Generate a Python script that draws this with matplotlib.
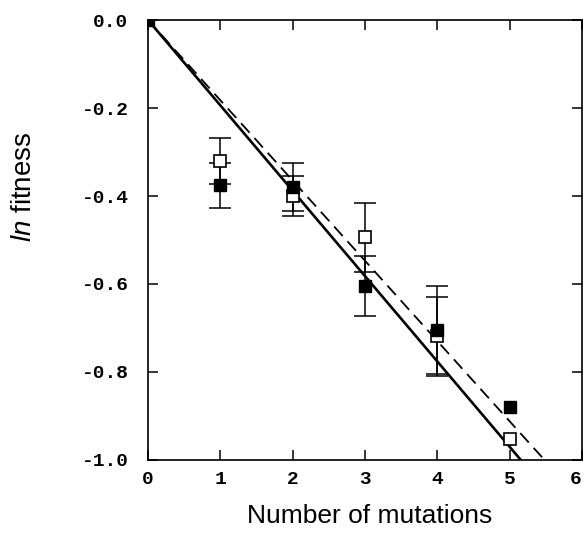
import matplotlib

matplotlib.use("Agg")
import matplotlib.pyplot as plt
import numpy as np

# data
mutations = [0, 1, 2, 3, 4, 5]
filled_y = [0.0, -0.376, -0.38, -0.604, -0.705, -0.879]
open_y = [0.0, -0.32, -0.40, -0.494, -0.719, -0.952]
# error bars only exist for 1..4 mutations
err_x = [1, 2, 3, 4]
filled_err = [0.052, 0.055, 0.068, 0.10]
open_err = [0.052, 0.046, 0.078, 0.09]
solid_slope = -0.194
dashed_slope = -0.1824
x_ticks = [0, 1, 2, 3, 4, 5, 6]
y_ticks = [0.0, -0.2, -0.4, -0.6, -0.8, -1.0]

plt.rcParams["mathtext.fontset"] = "custom"
plt.rcParams["mathtext.it"] = "Liberation Sans:italic"
plt.rcParams["mathtext.rm"] = "Liberation Sans"

fig = plt.figure(figsize=(5.86, 5.35), dpi=100)
ax = fig.add_axes([0.2526, 0.1402, 0.7405, 0.8224])

fit_x = np.array([0, 6])
ax.plot(fit_x, dashed_slope * fit_x, color="black", lw=1.3, ls=(0, (7, 4)), zorder=2)
ax.plot(fit_x, solid_slope * fit_x, color="black", lw=1.9, zorder=2)

ebar = dict(fmt="none", ecolor="black", elinewidth=1.1, capsize=8, capthick=1.1)
ax.errorbar(err_x, open_y[1:5], yerr=open_err, zorder=3, **ebar)
ax.errorbar(err_x, filled_y[1:5], yerr=filled_err, zorder=3, **ebar)
ax.plot(mutations[1:], open_y[1:], "s", ms=9, mfc="white", mec="black",
        mew=1.2, zorder=4)
ax.plot(mutations, filled_y, "s", ms=9, mfc="black", mec="black", zorder=5)

ax.set_xlim(0, 6)
ax.set_ylim(-1.0, 0.0)
ax.set_xticks(x_ticks)
ax.set_yticks(y_ticks)
xlabels = ax.set_xticklabels([str(t) for t in x_ticks], family="Liberation Mono",
                             fontweight="bold", fontsize=14)
xlabels[-1].set_ha("right")
ax.set_yticklabels([f"{t:.1f}" for t in y_ticks],
                   family="Liberation Mono", fontweight="bold", fontsize=14)
ax.tick_params(direction="in", length=7, width=1.1, top=True, right=True)
ax.tick_params(axis="x", pad=8)
ax.tick_params(axis="y", pad=14)
for s in ax.spines.values():
    s.set_linewidth(1.2)

ax.set_xlabel("Number of mutations", family="Liberation Sans", fontsize=19)
ax.set_ylabel(r"$\it{ln}$ fitness", family="Liberation Sans", fontsize=20)
ax.xaxis.set_label_coords(0.51, -0.1)
ax.yaxis.set_label_coords(-0.255, 0.62)

fig.savefig("out.png", dpi=100)
